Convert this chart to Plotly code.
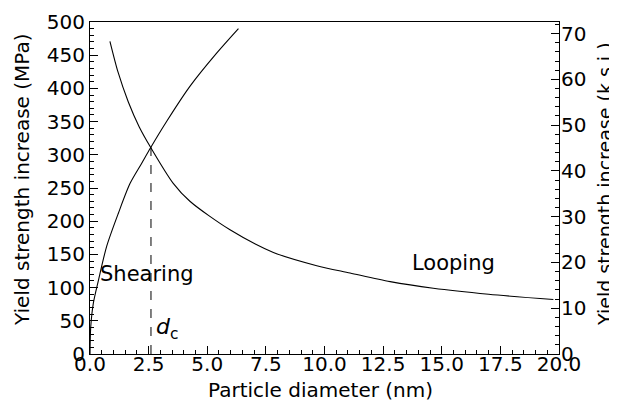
import plotly.graph_objects as go

# Data (particle diameter in nm, yield strength increase in MPa)
shear_d = [0.0, 0.03, 0.14, 0.36, 0.71, 1.21, 1.71, 2.2, 2.59, 3.3, 4.26, 5.4, 6.33]
shear_mpa = [0, 40, 76, 111, 162, 212, 257, 287, 311, 352, 403, 453, 490]

loop_d = [0.85, 1.2, 1.63, 2.1, 2.59, 3.55, 4.26, 5.97, 7.82, 9.67, 11.09, 12.8, 14.64, 17.0, 19.76]
loop_mpa = [471, 424, 380, 342, 311, 257, 230, 187, 153, 133, 122, 109, 99, 90, 82]

dc_d = [2.6, 2.6]
dc_mpa = [0, 311]

x_title = "Particle diameter (nm)"
y_title = "Yield strength increase (MPa)"
y2_title = "Yield strength increase (k.s.i.)"

font_family = "DejaVu Sans, Verdana, sans-serif"

fig = go.Figure()
fig.add_trace(go.Scatter(x=shear_d, y=shear_mpa, mode="lines",
                         line=dict(color="black", width=1.1, shape="spline", smoothing=0.8),
                         showlegend=False))
fig.add_trace(go.Scatter(x=loop_d, y=loop_mpa, mode="lines",
                         line=dict(color="black", width=1.1, shape="spline", smoothing=0.8),
                         showlegend=False))
fig.add_trace(go.Scatter(x=dc_d, y=dc_mpa, mode="lines",
                         line=dict(color="black", width=1, dash="dash"), showlegend=False))
# invisible trace to activate right axis
fig.add_trace(go.Scatter(x=[0], y=[0], yaxis="y2", mode="markers",
                         marker=dict(opacity=0), showlegend=False, hoverinfo="skip"))

fig.add_annotation(x=2.45, y=120, text="Shearing", showarrow=False,
                   font=dict(size=21, color="black"))
fig.add_annotation(x=15.5, y=137, text="Looping", showarrow=False,
                   font=dict(size=21, color="black"))
fig.add_annotation(x=3.3, y=38, text="<i>d</i><sub>c</sub>", showarrow=False,
                   font=dict(size=22, color="black"))

# axis titles as annotations for precise placement
fig.add_annotation(xref="paper", yref="paper", x=0.5, y=0, yanchor="middle",
                   yshift=-36, xshift=-4, text=x_title, showarrow=False,
                   font=dict(size=20, color="black"))
fig.add_annotation(xref="paper", yref="paper", x=0, y=0.5, xanchor="center",
                   xshift=-68, yshift=8, text=y_title, textangle=-90, showarrow=False,
                   font=dict(size=20, color="black"))
fig.add_annotation(xref="paper", yref="paper", x=1, y=0.5, xanchor="center",
                   xshift=46, yshift=4, text=y2_title, textangle=-90, showarrow=False,
                   font=dict(size=19, color="black"))

axis_common = dict(showline=True, linecolor="black", linewidth=1, ticks="inside",
                   tickcolor="black", ticklen=8, showgrid=False, zeroline=False,
                   automargin=False, tickfont=dict(size=20, color="black"))

# page body has an 8px default offset; figure size/margins compensate for it
fig.update_layout(
    width=609, height=393,
    margin=dict(l=82, r=58, t=14, b=47, autoexpand=False),
    paper_bgcolor="white", plot_bgcolor="white",
    font=dict(family=font_family, color="black"),
    xaxis=dict(range=[0, 20], dtick=2.5, tickformat=".1f", mirror=True,
               ticklabelstandoff=-8,
               minor=dict(dtick=0.5, ticks="inside", ticklen=4, tickcolor="black"),
               **axis_common),
    yaxis=dict(range=[0, 500], dtick=50, ticklabelstandoff=0,
               minor=dict(dtick=10, ticks="inside", ticklen=4, tickcolor="black"),
               **axis_common),
    yaxis2=dict(range=[0, 72.52], dtick=10, overlaying="y", side="right",
                ticklabelstandoff=-3,
                minor=dict(dtick=2, ticks="inside", ticklen=4, tickcolor="black"),
                **axis_common),
)

fig.write_html("out.html")
